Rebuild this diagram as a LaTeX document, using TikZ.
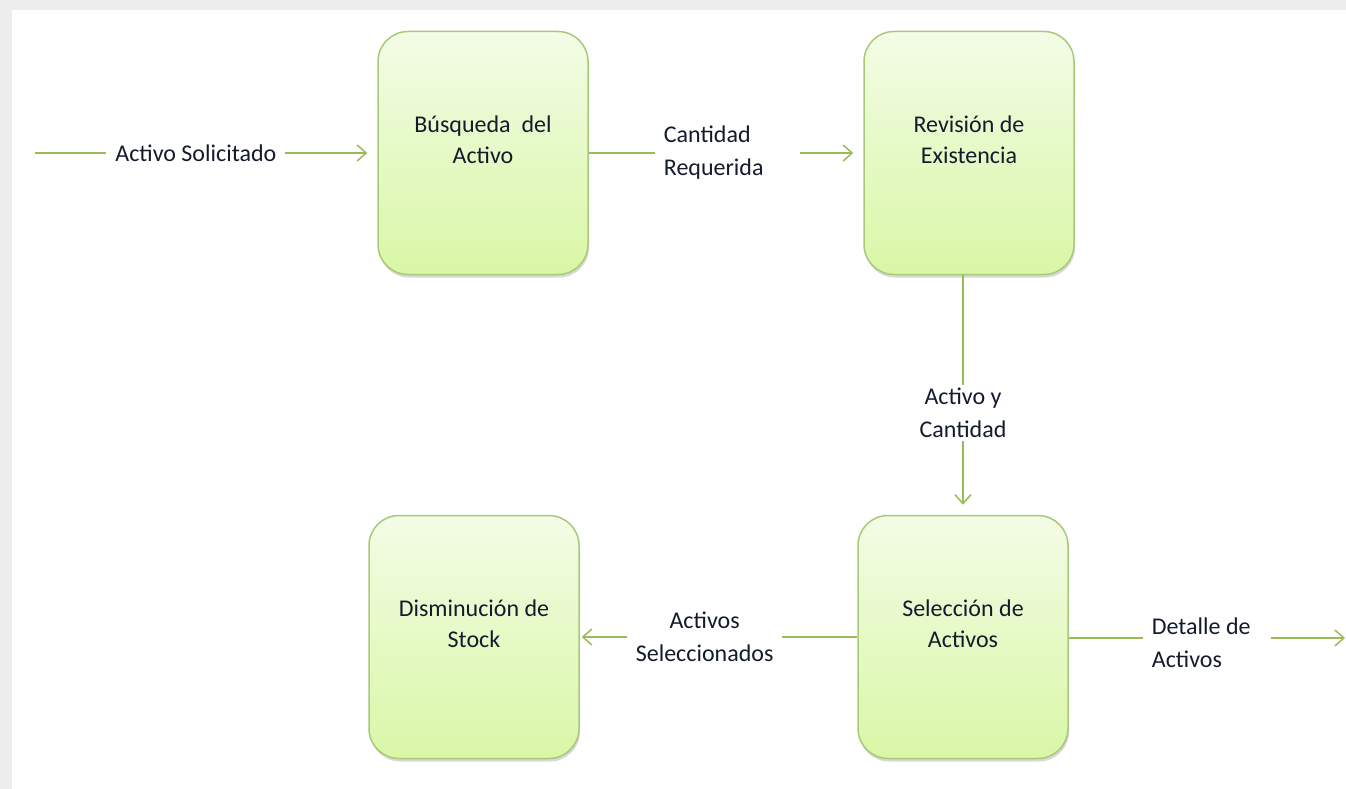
\documentclass[tikz,border=0pt]{standalone}
\usepackage{fontspec}
\setmainfont{Carlito}
\usetikzlibrary{arrows.meta,shadows}

\definecolor{flowgreen}{HTML}{9BBB59}
\definecolor{boxline}{HTML}{A9C97A}
\definecolor{boxtop}{HTML}{F3FCE6}
\definecolor{boxbot}{HTML}{D9F7A6}
\definecolor{inkblue}{HTML}{141B2D}

\begin{document}
\begin{tikzpicture}
		[
			x=1pt, y=-1pt,
			font=\fontsize{24}{31}\selectfont,
			text=inkblue,
			proc/.style = {rectangle, rounded corners=30pt, align=center, draw=boxline, line width=1.5pt,
				top color=boxtop, bottom color=boxbot, minimum width=210pt, minimum height=243pt,
				text depth=26pt, drop shadow={opacity=0.3, shadow xshift=1pt, shadow yshift=-3pt}},
			flow/.style = {draw=flowgreen, line width=1.5pt, -{Straight Barb[length=9pt, width=16pt]}},
			lbl/.style = {fill=white, inner xsep=9pt, inner ysep=2pt, font=\fontsize{24}{33}\selectfont},
		]

		% frame
		\fill[black!7] (0,0) rectangle (1346,789);
		\fill[white] (12,10) rectangle (1346,789);
		\useasboundingbox (0,0) rectangle (1346,789);

		% process boxes
		\node[proc] (busq) 	at ( 483, 153 ) {Búsqueda\ \ del\\Activo};
		\node[proc] (revi) 	at ( 969, 153 ) {Revisión de\\Existencia};
		\node[proc] (sele) 	at ( 963, 637 ) {Selección de\\Activos};
		\node[proc] (dism) 	at ( 474, 637 ) {Disminución de\\Stock};

		\coordinate (in)  at (   35, 153 );
		\coordinate (out) at ( 1345, 638 );

		% flows
		\draw[flow, shorten >=10pt] (in) -- node[lbl, pos=0.47] {Activo Solicitado} (busq);
		\draw[flow, shorten >=10pt] (busq) -- node[lbl, pos=0.505, text width=127pt, align=flush left] {Cantidad\\Requerida} (revi);
		\draw[flow, shorten >=10pt] (sele.north |- revi.south) -- node[lbl, pos=0.575, align=center, inner ysep=3pt] {Activo y\\Cantidad} (sele.north);
		\draw[flow, shorten >=2pt] (sele) -- node[lbl, pos=0.55, align=center] {Activos\\Seleccionados} (dism);
		\draw[flow] (sele.east |- out) -- node[lbl, pos=0.50, yshift=-5pt, text width=110pt, align=flush left] {Detalle de\\Activos} (out);

		\end{tikzpicture}
\end{document}
